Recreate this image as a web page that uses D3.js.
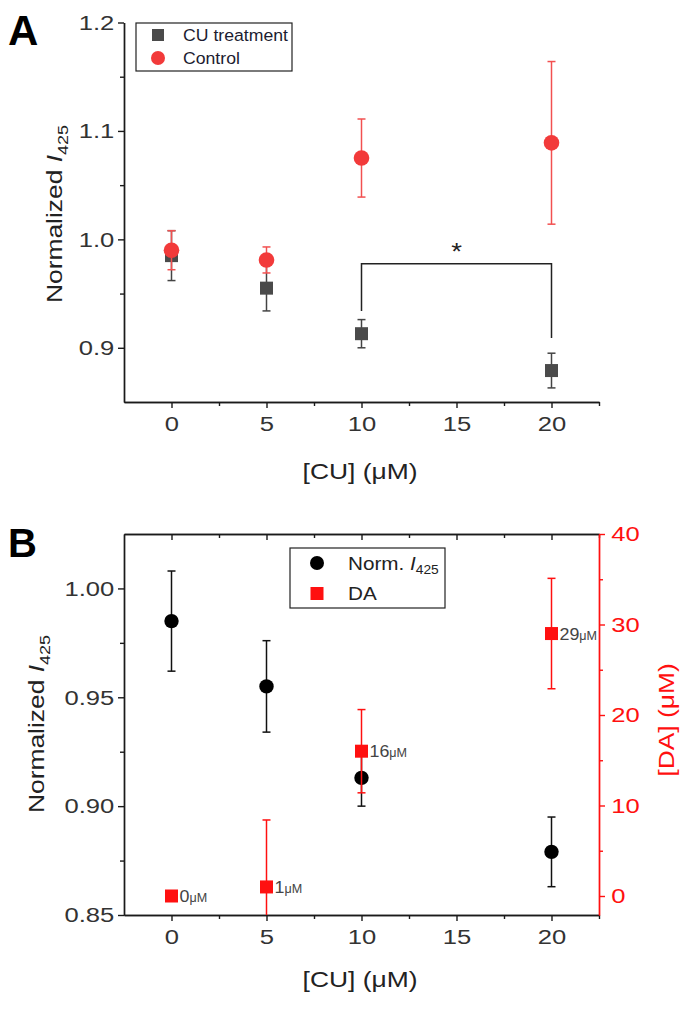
<!DOCTYPE html>
<html><head><meta charset="utf-8">
<script src="https://cdn.jsdelivr.net/npm/d3@7"></script>
<style>body{margin:0;background:#fff}svg{display:block}</style>
</head><body><svg id="c" width="690" height="1010"></svg>
<script>
// ---------- data ----------
const conc = [0, 5, 10, 20];
const cuMean = [0.985, 0.955, 0.913, 0.879];
const cuErr = [0.023, 0.021, 0.013, 0.016];
const ctrlMean = [0.990, 0.981, 1.075, 1.089];
const ctrlErr = [0.018, 0.012, 0.036, 0.075];
const xTicks = [0, 5, 10, 15, 20];
const xMinor = [2.5, 7.5, 12.5, 17.5, 22.5];
const yTicksA = [0.9, 1.0, 1.1, 1.2];
const yMinorA = [0.95, 1.05, 1.15];
const sigX = [10, 20];
const sigY = [0.934, 0.9775, 0.9775, 0.909];
const sigLabel = "*";
const normMean = [0.985, 0.955, 0.913, 0.879];
const normErr = [0.023, 0.021, 0.013, 0.016];
const daMean = [0, 1, 16, 29];
const daErr = [0, 7.4, 4.6, 6.1];
const daLabel = ["0", "1", "16", "29"];
const yTicksB = [0.85, 0.90, 0.95, 1.00];
const yMinorB = [0.875, 0.925, 0.975];
const yTicksDA = [0, 10, 20, 30, 40];
const yMinorDA = [5, 15, 25, 35];
const legendA = ["CU treatment", "Control"];

// ---------- setup ----------
const FONT = "Arial, 'Liberation Sans', sans-serif";
const RED = "#f23a3a", RED_ERR = "#f25050", GRAY = "#4a4a4a";
const PURE = "#ff1010", AX = "#1a1a1a", TXT = "#333";
const SX = 1.22; // horizontal stretch of the reference lettering
const svg = d3.select("#c").attr("font-family", FONT);
const x = d3.scaleLinear().domain([-2.5, 22.5]).range([124, 599]);

function style(g, color, fs, tcol) {
  g.select(".domain").attr("stroke", color).attr("stroke-width", 1.4);
  g.selectAll(".tick line").attr("stroke", color).attr("stroke-width", 1.4);
  g.selectAll(".tick text").attr("fill", tcol || TXT).attr("font-size", fs).attr("font-family", FONT)
    .attr("transform", `scale(${SX},1)`);
  return g;
}
function errBars(g, xs, ys, es, xsc, ysc, color, cap) {
  xs.forEach((v, i) => {
    if (!es[i]) return;
    const cx = xsc(v), y1 = ysc(ys[i] - es[i]), y2 = ysc(ys[i] + es[i]);
    g.append("line").attr("x1", cx).attr("x2", cx).attr("y1", y1).attr("y2", y2).attr("stroke", color).attr("stroke-width", 1.5);
    [y1, y2].forEach(yy => g.append("line").attr("x1", cx - cap).attr("x2", cx + cap).attr("y1", yy).attr("y2", yy).attr("stroke", color).attr("stroke-width", 1.5));
  });
}
function stext(g, tx, ty, sx, rot) {
  return g.append("text").attr("transform", `translate(${tx},${ty})${rot ? ` rotate(${rot})` : ""} scale(${sx},1)`);
}

// ================= Panel A =================
const yA = d3.scaleLinear().domain([0.85, 1.2]).range([402, 22.5]);
const A = svg.append("g");
style(A.append("g").attr("transform", "translate(0,402)")
  .call(d3.axisBottom(x).tickValues(xTicks).tickSize(6).tickSizeOuter(0).tickPadding(8).tickFormat(d3.format("d"))), AX, 21);
style(A.append("g").attr("transform", "translate(0,402)")
  .call(d3.axisBottom(x).tickValues(xMinor).tickSize(4).tickSizeOuter(0).tickFormat("")), AX, 21);
style(A.append("g").attr("transform", "translate(124,0)")
  .call(d3.axisLeft(yA).tickValues(yTicksA).tickSize(6).tickSizeOuter(0).tickPadding(2).tickFormat(d3.format(".1f"))), AX, 21);
style(A.append("g").attr("transform", "translate(124,0)")
  .call(d3.axisLeft(yA).tickValues(yMinorA).tickSize(4).tickSizeOuter(0).tickFormat("")), AX, 21);

// CU treatment
errBars(A, conc, cuMean, cuErr, x, yA, "#444", 4);
A.selectAll("rect.cu").data(conc).join("rect").attr("class", "cu")
  .attr("x", d => x(d) - 6.5).attr("y", (d, i) => yA(cuMean[i]) - 6.5)
  .attr("width", 13).attr("height", 13).attr("fill", GRAY);
// Control
errBars(A, conc, ctrlMean, ctrlErr, x, yA, RED_ERR, 4);
A.selectAll("circle.ct").data(conc).join("circle").attr("class", "ct")
  .attr("cx", d => x(d)).attr("cy", (d, i) => yA(ctrlMean[i])).attr("r", 7.8).attr("fill", RED);

// significance bracket
A.append("path").attr("fill", "none").attr("stroke", "#222").attr("stroke-width", 1.5)
  .attr("d", d3.line()([[x(sigX[0]), yA(sigY[0])], [x(sigX[0]), yA(sigY[1])], [x(sigX[1]), yA(sigY[2])], [x(sigX[1]), yA(sigY[3])]]));
stext(A, x((sigX[0] + sigX[1]) / 2), yA(sigY[1]) - 4, 1.15)
  .attr("text-anchor", "middle").attr("font-size", 24).attr("fill", "#222").text(sigLabel);

// legend A
A.append("rect").attr("x", 136).attr("y", 23).attr("width", 156).attr("height", 48)
  .attr("fill", "#fff").attr("stroke", "#222").attr("stroke-width", 1.2);
A.append("rect").attr("x", 152).attr("y", 29).attr("width", 12).attr("height", 12).attr("fill", GRAY);
A.append("circle").attr("cx", 158).attr("cy", 58).attr("r", 7).attr("fill", RED);
stext(A, 183, 41, 1.07).attr("font-size", 16.5).attr("fill", "#1c1c30").text(legendA[0]);
stext(A, 183, 64, 1.07).attr("font-size", 16.5).attr("fill", "#1c1c30").text(legendA[1]);

// titles A
stext(A, 360, 479, 1.2).attr("text-anchor", "middle").attr("font-size", 22).attr("fill", "#222").text("[CU] (\u03bcM)");
const tA = stext(A, 62, 214, 1.2, -90).attr("text-anchor", "middle").attr("font-size", 22).attr("fill", "#222");
tA.append("tspan").text("Normalized ");
tA.append("tspan").attr("font-style", "italic").text("I");
tA.append("tspan").attr("font-size", 15).attr("dy", 6).text("425");
A.append("text").attr("x", 8).attr("y", 45).attr("font-size", 42).attr("font-weight", "bold").attr("fill", "#000").text("A");

// ================= Panel B =================
const yB = d3.scaleLinear().domain([0.85, 1.025]).range([915, 534]);
const yD = d3.scaleLinear().domain([-2.1, 40]).range([915, 534]);
const B = svg.append("g");
svg.append("defs").append("clipPath").attr("id", "clipB").append("rect").attr("x", 124).attr("y", 534).attr("width", 475).attr("height", 381);

style(B.append("g").attr("transform", "translate(0,915)")
  .call(d3.axisBottom(x).tickValues(xTicks).tickSize(6).tickSizeOuter(0).tickPadding(8).tickFormat(d3.format("d"))), AX, 21);
style(B.append("g").attr("transform", "translate(0,915)")
  .call(d3.axisBottom(x).tickValues(xMinor).tickSize(4).tickSizeOuter(0).tickFormat("")), AX, 21);
style(B.append("g").attr("transform", "translate(0,534)")
  .call(d3.axisTop(x).tickValues(xTicks).tickSize(-6).tickSizeOuter(0).tickFormat("")), AX, 21);
style(B.append("g").attr("transform", "translate(0,534)")
  .call(d3.axisTop(x).tickValues(xMinor).tickSize(-4).tickSizeOuter(0).tickFormat("")), AX, 21);
style(B.append("g").attr("transform", "translate(124,0)")
  .call(d3.axisLeft(yB).tickValues(yTicksB).tickSize(6).tickSizeOuter(0).tickPadding(2).tickFormat(d3.format(".2f"))), AX, 21);
style(B.append("g").attr("transform", "translate(124,0)")
  .call(d3.axisLeft(yB).tickValues(yMinorB).tickSize(4).tickSizeOuter(0).tickFormat("")), AX, 21);
style(B.append("g").attr("transform", "translate(599,0)")
  .call(d3.axisRight(yD).tickValues(yTicksDA).tickSize(6).tickSizeOuter(0).tickPadding(4).tickFormat(d3.format("d"))), PURE, 21, PURE);
style(B.append("g").attr("transform", "translate(599,0)")
  .call(d3.axisRight(yD).tickValues(yMinorDA).tickSize(4).tickSizeOuter(0).tickFormat("")), PURE, 21, PURE);

const plotB = B.append("g").attr("clip-path", "url(#clipB)");
errBars(plotB, conc, normMean, normErr, x, yB, "#111", 4);
plotB.selectAll("circle.nm").data(conc).join("circle").attr("class", "nm")
  .attr("cx", d => x(d)).attr("cy", (d, i) => yB(normMean[i])).attr("r", 7.2).attr("fill", "#000");
errBars(plotB, conc, daMean, daErr, x, yD, PURE, 4);
plotB.selectAll("rect.da").data(conc).join("rect").attr("class", "da")
  .attr("x", d => x(d) - 6.5).attr("y", (d, i) => yD(daMean[i]) - 6.5)
  .attr("width", 13).attr("height", 13).attr("fill", PURE);
const lab = B.selectAll("text.dal").data(conc).join("text").attr("class", "dal")
  .attr("transform", (d, i) => `translate(${x(d) + 8},${yD(daMean[i]) + 6}) scale(1.05,1)`)
  .attr("font-size", 17).attr("fill", "#444");
lab.append("tspan").text((d, i) => daLabel[i]);
lab.append("tspan").attr("font-size", 12).text("\u03bcM");

// legend B
B.append("rect").attr("x", 290).attr("y", 548).attr("width", 155).attr("height", 60)
  .attr("fill", "#fff").attr("stroke", "#222").attr("stroke-width", 1.2);
B.append("circle").attr("cx", 317).attr("cy", 563).attr("r", 7).attr("fill", "#000");
B.append("rect").attr("x", 310.5).attr("y", 587).attr("width", 13).attr("height", 13).attr("fill", PURE);
const lB = stext(B, 348, 570, 1.15).attr("font-size", 18).attr("fill", "#222");
lB.append("tspan").text("Norm. ");
lB.append("tspan").attr("font-style", "italic").text("I");
lB.append("tspan").attr("font-size", 12).attr("dy", 4).text("425");
stext(B, 348, 600, 1.15).attr("font-size", 18).attr("fill", "#222").text("DA");

// titles B
stext(B, 360, 987, 1.2).attr("text-anchor", "middle").attr("font-size", 22).attr("fill", "#222").text("[CU] (\u03bcM)");
const tB = stext(B, 44, 724, 1.2, -90).attr("text-anchor", "middle").attr("font-size", 22).attr("fill", "#222");
tB.append("tspan").text("Normalized ");
tB.append("tspan").attr("font-style", "italic").text("I");
tB.append("tspan").attr("font-size", 15).attr("dy", 6).text("425");
stext(B, 674, 720, 1.2, -90).attr("text-anchor", "middle")
  .attr("font-size", 22).attr("fill", PURE).text("[DA] (\u03bcM)");
B.append("text").attr("x", 8).attr("y", 557).attr("font-size", 40).attr("font-weight", "bold").attr("fill", "#000").text("B");
</script>
</body></html>
